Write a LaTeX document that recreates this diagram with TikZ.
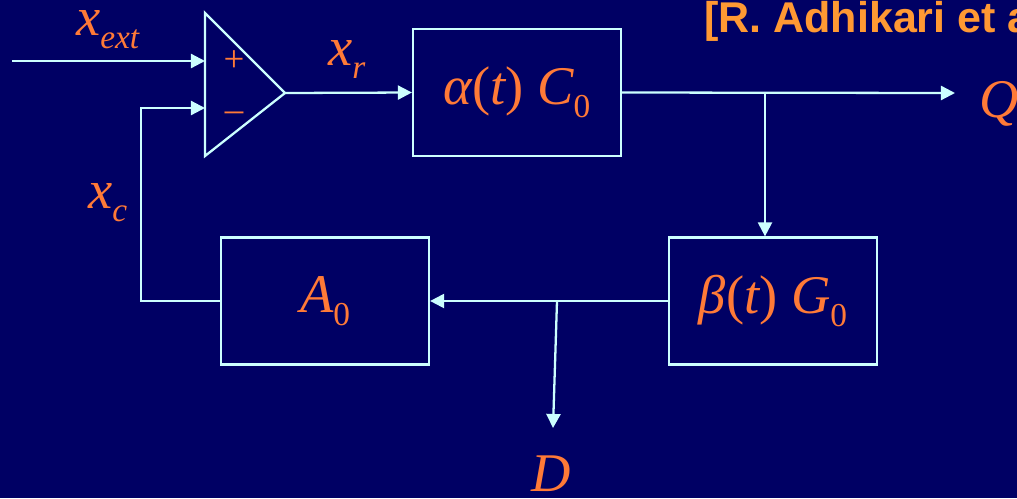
\documentclass[tikz,border=0pt]{standalone}
\usepackage{fontspec}
\newfontfamily\citefont{Liberation Sans}
\newfontfamily\symfont{Liberation Serif}
\usetikzlibrary{arrows.meta}
\definecolor{bgnavy}{RGB}{0,0,100}
\definecolor{wire}{RGB}{204,255,255}
\definecolor{symb}{RGB}{255,122,55}
\definecolor{cite}{RGB}{255,153,51}
\newcommand{\lowsub}[1]{\raisebox{-0.24em}{\fontsize{19}{20}\selectfont #1}}

\begin{document}
\begin{tikzpicture}[x=0.02cm,y=-0.02cm,line width=1.3pt,
    wire/.style={draw=wire,-{Triangle[length=8pt,width=8pt]}},
    blk/.style={draw=wire,minimum width=4.16cm,minimum height=2.54cm,inner sep=0pt},
    sym/.style={text=symb,font=\symfont\fontsize{31}{34}\selectfont\itshape},
    lbl/.style={sym,anchor=base west,inner sep=0pt},
    sgn/.style={text=symb,font=\symfont\fontsize{21}{22}\selectfont}]
    \fill[bgnavy] (0,0) rectangle (1017,498);
    \clip (0,0) rectangle (1017,498);
    \node[anchor=base west,inner sep=0pt,text=cite,font=\citefont\bfseries\fontsize{24.5}{27}\selectfont] (cite) at (703,32) {[R. Adhikari et al.]};

    % comparator
    \coordinate (cmp-top) at (205,13);
    \coordinate (cmp-bot) at (205,156);
    \coordinate (cmp-out) at (285,93);
    \draw[draw=wire] (cmp-top) -- (cmp-out) -- (cmp-bot) -- cycle;
    \coordinate (in-plus) at (205,61);
    \coordinate (in-minus) at (205,108);
    \node[sgn] (plus) at (234,61) {+};
    \node[sgn] (minus) at (234,117) {–};

    % blocks
    \node[blk,sym] (alpha) at (517,92.5) {α{\upshape(}t{\upshape)}\ C\lowsub{\upshape 0}};
    \node[blk,sym] (beta) at (773,301) {β{\upshape(}t{\upshape)}\ G\lowsub{\upshape 0}};
    \node[blk,sym] (A0) at (325,301) {A\lowsub{\upshape 0}};

    % signals
    \coordinate (ext-start) at (12,61);
    \coordinate (fb-turn) at (141,108);
    \coordinate (q-end) at (955,93);
    \coordinate (split) at (765,93);
    \coordinate (tap) at (557,301);
    \coordinate (d-end) at (553,428);
    \draw[wire] (ext-start) -- (in-plus);
    \draw[wire] (A0.west) -| (fb-turn) -- (in-minus);
    \draw[wire] (cmp-out) -- (alpha.west);
    \draw[wire] (alpha.east) -- (q-end);
    \draw[wire] (split) -- (split |- beta.north);
    \draw[wire] (beta.west) -- (A0.east);
    \draw[wire] (tap) -- (d-end);

    \node[lbl] (xext) at (75,35) {x\lowsub{ext}};
    \node[lbl] (xr) at (327,65) {x\lowsub{r}};
    \node[lbl] (xc) at (87,208) {x\lowsub{c}};
    \node[lbl] (Q) at (978,117) {Q};
    \node[lbl] (D) at (530,491) {D};
\end{tikzpicture}
\end{document}
